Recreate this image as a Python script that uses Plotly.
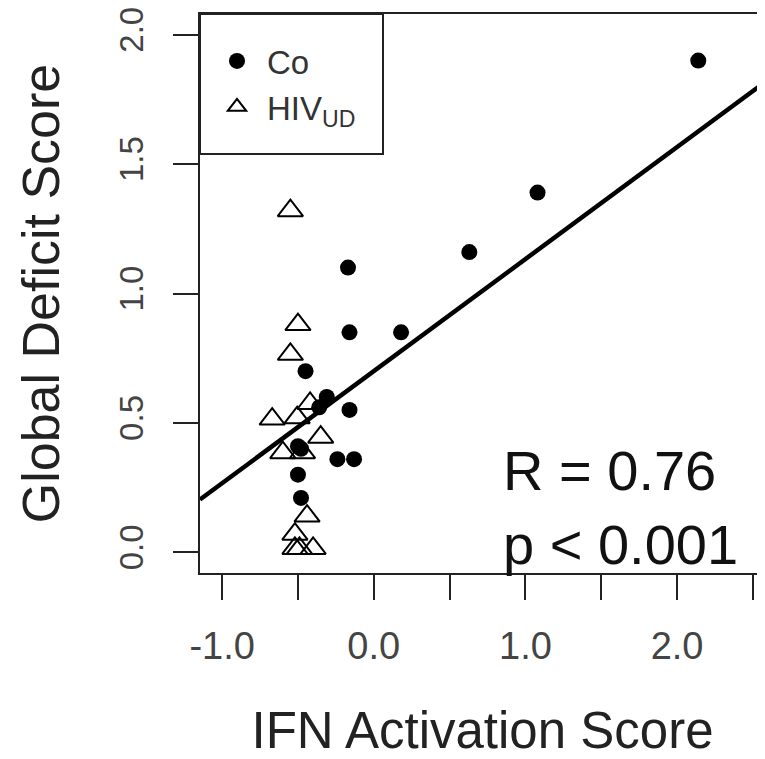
import numpy as np
import plotly.graph_objects as go

# ---- data ----
co_x = [2.14, 2.61, 1.08, 0.63, 0.18, -0.17, -0.16, -0.45, -0.31, -0.36, -0.16, -0.50, -0.48, -0.24, -0.13, -0.50, -0.48]
co_y = [1.90, 1.35, 1.39, 1.16, 0.85, 1.10, 0.85, 0.70, 0.60, 0.56, 0.55, 0.41, 0.40, 0.36, 0.36, 0.30, 0.21]

hiv_x = [-0.55, -0.50, -0.55, -0.67, -0.42, -0.505, -0.35, -0.60, -0.47, -0.44, -0.52, -0.52, -0.49, -0.40]
hiv_y = [1.32, 0.88, 0.765, 0.515, 0.575, 0.52, 0.445, 0.385, 0.385, 0.14, 0.07, 0.015, 0.015, 0.015]

fit_intercept = 0.70
fit_slope = 0.433

x_range = [-1.146, 2.58]
y_range = [-0.08, 2.08]

x_tickvals = [-1.0, -0.5, 0.0, 0.5, 1.0, 1.5, 2.0, 2.5]
x_ticktext = ["-1.0", "", "0.0", "", "1.0", "", "2.0", ""]
y_tickvals = [0.0, 0.5, 1.0, 1.5, 2.0]
y_ticktext = ["0.0", "0.5", "1.0", "1.5", "2.0"]

stats_text = ["R = 0.76", "p < 0.001"]
stats_x = [0.84, 0.84]
stats_y = [0.315, 0.03]

FONT = "Liberation Sans, Arial, sans-serif"

# the page body adds an 8px offset, so the figure is 8px smaller
W, H = 757, 751
ML, MR, MT, MB = 192, 0, 6, 186
PW, PH = W - ML - MR, H - MT - MB

fig = go.Figure()

fit_x = np.array(x_range)
fit_y = fit_intercept + fit_slope * fit_x
fig.add_trace(go.Scatter(x=fit_x, y=fit_y, mode="lines",
                         line=dict(color="black", width=4.5),
                         showlegend=False, hoverinfo="skip"))

fig.add_trace(go.Scatter(x=co_x, y=co_y, mode="markers", name="Co",
                         marker=dict(symbol="circle", size=16, color="black")))
fig.add_trace(go.Scatter(x=hiv_x, y=hiv_y, mode="markers", name="HIV<sub>UD</sub>",
                         marker=dict(symbol="triangle-up-open", size=22, color="black",
                                     line=dict(width=2, color="black"))))

for t, xx, yy in zip(stats_text, stats_x, stats_y):
    fig.add_annotation(x=xx, y=yy, xref="x", yref="y", text=t, showarrow=False,
                       xanchor="left", yanchor="middle",
                       font=dict(family=FONT, size=56, color="#111"))

# legend frame (R-style box in the top-left corner)
fig.add_shape(type="rect", xref="paper", yref="paper",
              x0=0, x1=183 / PW, y0=1 - 140 / PH, y1=1,
              line=dict(color="#222", width=2), fillcolor="rgba(0,0,0,0)", layer="above")

fig.update_layout(
    width=W, height=H,
    margin=dict(l=ML, r=MR, t=MT, b=MB, autoexpand=False),
    paper_bgcolor="white", plot_bgcolor="white",
    font=dict(family=FONT, color="#222"),
    showlegend=True,
    legend=dict(x=7 / PW, y=1 - 19 / PH, xanchor="left", yanchor="top",
                borderwidth=0, bgcolor="rgba(0,0,0,0)",
                font=dict(family=FONT, size=33, color="#333"),
                itemwidth=50, tracegroupgap=0),
)

fig.update_xaxes(range=x_range, showgrid=False, zeroline=False, automargin=False,
                 showline=True, linecolor="#222", linewidth=2, mirror=True,
                 ticks="outside", ticklen=25, tickwidth=2, tickcolor="#222",
                 tickmode="array", tickvals=x_tickvals, ticktext=x_ticktext,
                 tickfont=dict(family=FONT, size=38, color="#444"),
                 ticklabelstandoff=13, ticklabeloverflow="allow",
                 title=dict(text="IFN Activation Score", standoff=56,
                            font=dict(family=FONT, size=51, color="#222")))
fig.update_yaxes(range=y_range, showgrid=False, zeroline=False, automargin=False,
                 showline=True, linecolor="#222", linewidth=2, mirror=False,
                 ticks="outside", ticklen=25, tickwidth=2, tickcolor="#222",
                 tickmode="array", tickvals=y_tickvals, ticktext=y_ticktext,
                 tickangle=-90, ticklabelstandoff=17, ticklabeloverflow="allow",
                 tickfont=dict(family=FONT, size=33, color="#444"),
                 title=dict(text="Global Deficit Score", standoff=37,
                            font=dict(family=FONT, size=52, color="#222")))

fig.write_html("out.html")
